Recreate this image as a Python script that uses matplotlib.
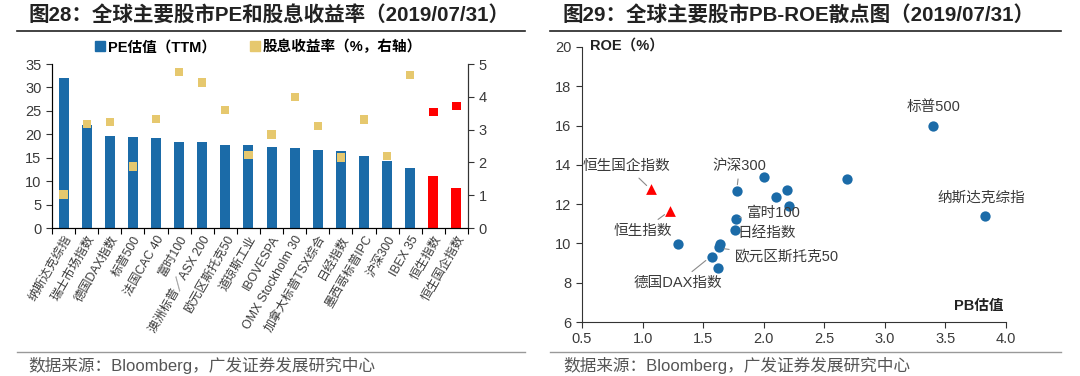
import numpy as np
import matplotlib
matplotlib.use("Agg")
import matplotlib.pyplot as plt
from matplotlib.lines import Line2D

plt.rcParams['font.family'] = ['Liberation Sans', 'Noto Sans CJK SC', 'DejaVu Sans']

# ---- left chart data ----
names = ["纳斯达克综指", "瑞士市场指数", "德国DAX指数", "标普500", "法国CAC 40", "富时100",
         "澳洲标普／ASX 200", "欧元区斯托克50", "道琼斯工业", "IBOVESPA", "OMX Stockholm 30",
         "加拿大标普TSX综合", "日经指数", "墨西哥标普IPC", "沪深300", "IBEX 35", "恒生指数", "恒生国企指数"]
pe = [32.0, 21.9, 19.7, 19.5, 19.2, 18.3, 18.3, 17.8, 17.7, 17.3, 17.0, 16.6, 16.5, 15.3, 14.2, 12.9, 11.0, 8.6]
div_yield = [1.02, 3.17, 3.23, 1.88, 3.33, 4.76, 4.44, 3.60, 2.22, 2.85, 4.00, 3.11, 2.15, 3.31, 2.20, 4.67, 3.53, 3.71]
hk_flag = [False] * 16 + [True, True]

# ---- right chart data ----
pb = [3.40, 3.83, 2.69, 2.00, 1.78, 2.19, 2.10, 2.21, 1.77, 1.76, 1.64, 1.63, 1.29, 1.57, 1.62]
roe = [16.0, 11.4, 13.3, 13.4, 12.65, 12.7, 12.35, 11.9, 11.25, 10.7, 9.97, 9.8, 9.97, 9.3, 8.75]
hk_pb = [1.07, 1.23]
hk_roe = [12.78, 11.63]

blue = "#1B6BA8"
yellow = "#E6C86E"
red = "#FF0000"
txt = "#3a3a3a"

fig = plt.figure(figsize=(10.8, 3.76), dpi=100)
W, H = 1080, 376

def box(l, t, r, b):
    return [l / W, 1 - b / H, (r - l) / W, (b - t) / H]

# titles and rules
fig.text(29 / W, 1 - 15 / H, "图28：全球主要股市PE和股息收益率（2019/07/31）", fontsize=14.8,
         fontweight='bold', color="#222222", va='center', ha='left')
fig.text(563 / W, 1 - 15 / H, "图29：全球主要股市PB-ROE散点图（2019/07/31）", fontsize=14.8,
         fontweight='bold', color="#222222", va='center', ha='left')
for x0, x1 in [(17, 525), (550, 1061)]:
    fig.add_artist(Line2D([x0 / W, x1 / W], [1 - 31 / H, 1 - 31 / H], color="#222222", lw=1.2))
    fig.add_artist(Line2D([x0 / W, x1 / W], [1 - 352 / H, 1 - 352 / H], color="#999999", lw=1.0))
fig.text(28 / W, 1 - 365 / H, "数据来源：Bloomberg，广发证券发展研究中心", fontsize=12, color="#555555", va='center')
fig.text(563 / W, 1 - 365 / H, "数据来源：Bloomberg，广发证券发展研究中心", fontsize=12, color="#555555", va='center')

# ---- left chart ----
ax = fig.add_axes(box(52, 64, 468, 228))
x = np.arange(len(names))
colors = [red if f else blue for f in hk_flag]
ax.bar(x, pe, width=0.43, color=colors, zorder=2)
ax.set_xlim(-0.5, len(names) - 0.5)
ax.set_ylim(0, 35)
ax.set_yticks(range(0, 36, 5))
ax.set_xticks(np.arange(-0.5, len(names), 1.0))
ax.set_xticklabels([])
ax.set_xticks(x, minor=True)
ax.set_xticklabels(names, minor=True, rotation=60, ha='right', rotation_mode='anchor',
                   fontsize=8.8, color=txt)
ax.tick_params(axis='x', which='minor', length=0, pad=4)
ax.tick_params(axis='x', which='major', length=4, direction='out')
ax.tick_params(axis='y', labelsize=10.5, color="#333333", labelcolor=txt, length=4)
ax.spines['top'].set_visible(False)
for s in ['left', 'bottom', 'right']:
    ax.spines[s].set_color("#333333")

ax2 = ax.twinx()
sq_colors = [red if f else yellow for f in hk_flag]
ax2.scatter(x, div_yield, marker='s', s=36, color=sq_colors, zorder=3, linewidths=0)
ax2.set_ylim(0, 5)
ax2.set_yticks(range(0, 6))
ax2.tick_params(axis='y', labelsize=10.5, labelcolor=txt, color="#333333", length=4)
ax2.spines['top'].set_visible(False)
ax2.spines['right'].set_color("#333333")

handles = [Line2D([], [], marker='s', ls='', color=blue, markersize=7),
           Line2D([], [], marker='s', ls='', color=yellow, markersize=7)]
fig.legend(handles, ["PE估值（TTM）", "股息收益率（%，右轴）"], loc='center',
           bbox_to_anchor=(258 / W, 1 - 47 / H), ncol=2, frameon=False,
           handletextpad=0.1, columnspacing=2.3, handlelength=0.8,
           prop={'weight': 'bold', 'size': 10.5})

# ---- right chart ----
bx = fig.add_axes(box(582, 47, 1006, 322))
bx.scatter(pb, roe, s=55, color=blue, zorder=3, linewidths=0)
bx.scatter(hk_pb, hk_roe, marker='^', s=60, color=red, zorder=3, linewidths=0)
bx.set_xlim(0.5, 4.0)
bx.set_ylim(6, 20)
bx.set_xticks(np.arange(0.5, 4.01, 0.5))
bx.set_xticklabels([f"{v:.1f}" for v in np.arange(0.5, 4.01, 0.5)])
bx.set_yticks(range(6, 21, 2))
bx.tick_params(labelsize=10.5, labelcolor=txt, color="#333333", length=4)
bx.spines['top'].set_visible(False)
bx.spines['right'].set_visible(False)
for s in ['left', 'bottom']:
    bx.spines[s].set_color("#333333")

bx.text(0.57, 20.05, "ROE（%）", fontsize=10.5, fontweight='bold', color="#222222",
        va='center', ha='left', clip_on=False)
bx.text(3.98, 6.8, "PB估值", fontsize=10.5, fontweight='bold', color="#222222", va='center', ha='right')

lc = "#8a8a8a"
lbl = dict(fontsize=10.5, color=txt, va='center')
arr = dict(arrowstyle='-', color=lc, lw=0.8)
bx.annotate("恒生国企指数", xy=(1.05, 12.85), xytext=(0.87, 13.92), ha='center', arrowprops=arr, **lbl)
bx.annotate("恒生指数", xy=(1.20, 11.55), xytext=(1.00, 10.64), ha='center', arrowprops=arr, **lbl)
bx.annotate("沪深300", xy=(1.78, 12.85), xytext=(1.80, 13.92), ha='center', arrowprops=arr, **lbl)
bx.annotate("富时100", xy=(1.78, 11.3), xytext=(1.86, 11.54), ha='left', arrowprops=arr, **lbl)
bx.annotate("日经指数", xy=(1.76, 10.7), xytext=(1.78, 10.53), ha='left', **lbl)
bx.annotate("欧元区斯托克50", xy=(1.65, 9.75), xytext=(1.76, 9.29), ha='left', arrowprops=arr, **lbl)
bx.annotate("德国DAX指数", xy=(1.54, 9.22), xytext=(1.29, 7.98), ha='center', arrowprops=arr, **lbl)
bx.annotate("标普500", xy=(3.40, 16.0), xytext=(3.40, 16.97), ha='center', **lbl)
bx.annotate("纳斯达克综指", xy=(3.83, 11.4), xytext=(3.80, 12.31), ha='center', **lbl)

fig.savefig("out.png", dpi=100)
